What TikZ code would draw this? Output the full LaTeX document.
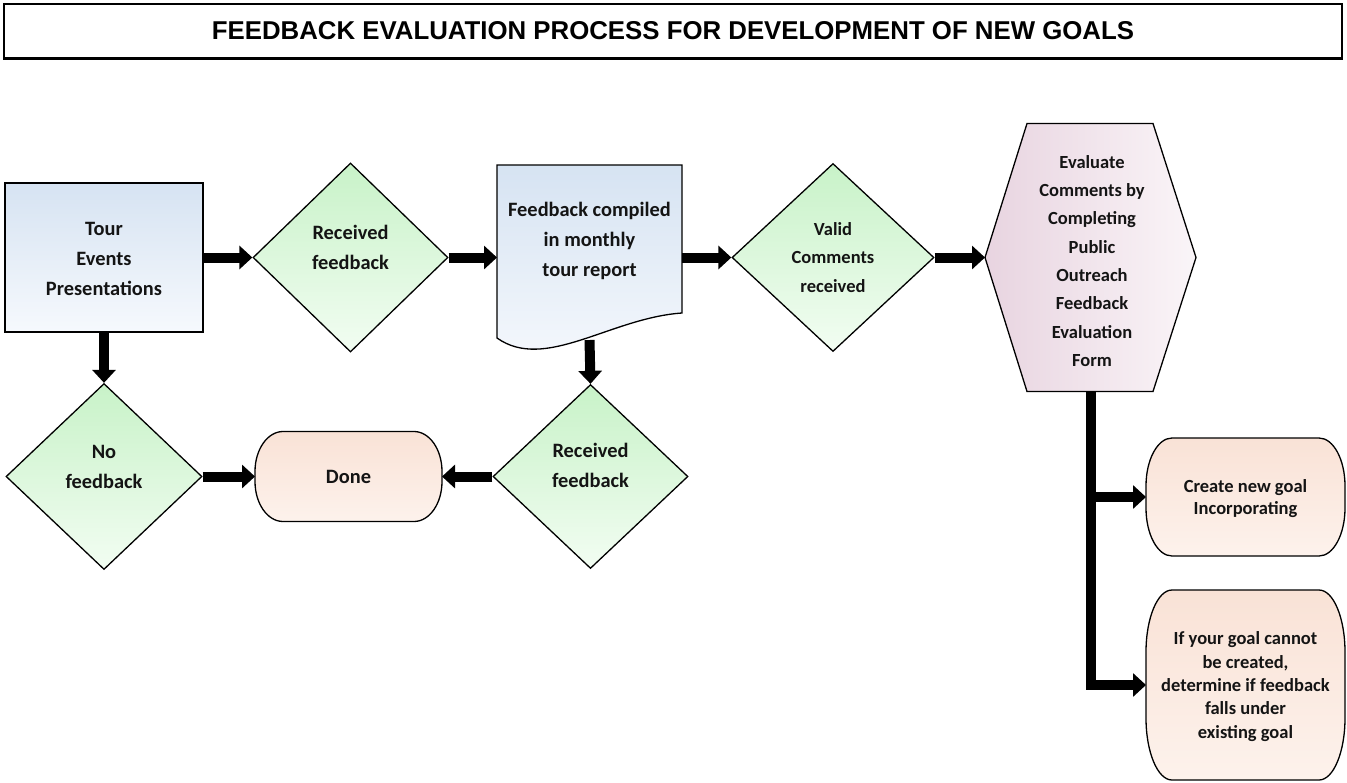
\documentclass[tikz,border=0pt]{standalone}
\usepackage{fontspec}
\setmainfont{Carlito}
\newfontfamily\titlefont{Liberation Sans}
\usetikzlibrary{shapes.geometric,arrows.meta,calc}

\definecolor{blueTop}{RGB}{214,227,242}
\definecolor{blueBot}{RGB}{246,249,253}
\definecolor{greenTop}{RGB}{200,242,200}
\definecolor{greenBot}{RGB}{242,253,242}
\definecolor{peachA}{RGB}{249,226,214}
\definecolor{peachB}{RGB}{253,242,236}
\definecolor{mauveL}{RGB}{232,212,224}
\definecolor{mauveR}{RGB}{250,245,248}
\definecolor{ink}{RGB}{20,20,20}

% terminal with elliptical corners drawn around a named frame node
\newcommand\termbox[3]{%
  \draw[outline, top color=peachA, bottom color=peachB]
    ([xshift=#2]#1.north west) -- ([xshift=-#2]#1.north east)
    arc[start angle=90, end angle=0, x radius=#2, y radius=#3]
    -- ([yshift=#3]#1.south east)
    arc[start angle=0, end angle=-90, x radius=#2, y radius=#3]
    -- ([xshift=#2]#1.south west)
    arc[start angle=270, end angle=180, x radius=#2, y radius=#3]
    -- ([yshift=-#3]#1.north west)
    arc[start angle=180, end angle=90, x radius=#2, y radius=#3] -- cycle;}

\begin{document}
\begin{tikzpicture}[x=1pt, y=1pt,
  outline/.style={draw=black, line width=1.3pt},
  procbox/.style={outline, rectangle, inner sep=0pt, top color=blueTop, bottom color=blueBot},
  decision/.style={outline, diamond, inner sep=0pt, top color=greenTop, bottom color=greenBot},
  frame/.style={rectangle, inner sep=0pt, outer sep=0pt},
  bigtxt/.style={align=center, text=ink, font=\fontsize{20.4}{30}\selectfont\bfseries},
  smalltxt/.style={align=center, text=ink, font=\fontsize{18.5}{28.3}\selectfont\bfseries},
  flow/.style={line width=10pt, line join=miter, -{Triangle[length=13pt, width=23pt]}}]

\useasboundingbox (0,0) rectangle (1347,-782);

% heading
\node[draw=black, line width=1.5pt, minimum width=1338pt, minimum height=54pt, inner sep=0pt]
  (title) at (673,-31)
  {\titlefont\bfseries\fontsize{25.8}{30}\selectfont FEEDBACK EVALUATION PROCESS FOR DEVELOPMENT OF NEW GOALS};
\draw[line width=3pt] (title.south west) -- (title.south east);

% main row
\node[procbox, minimum width=198pt, minimum height=149pt] (tour) at (104,-257.5) {};
\node[decision, minimum width=195pt, minimum height=189pt] (recv1) at (350.5,-257.5) {};
\node[frame, minimum width=185pt, minimum height=185pt] (doc) at (589.5,-257.5) {};
\draw[outline, top color=blueTop, bottom color=blueBot]
  (497,-165) -- (682,-165) -- (682,-313)
  .. controls (610,-318) and (545,-372) .. (497,-338) -- cycle;
\node[decision, minimum width=202pt, minimum height=188pt] (valid) at (833,-257.5) {};
\node[frame, minimum width=211pt, minimum height=268pt] (hex) at (1090.5,-257.5) {};
\draw[outline, left color=mauveL, right color=mauveR]
  (hex.west) -- ([xshift=42pt]hex.north west) -- ([xshift=-43pt]hex.north east)
  -- (hex.east) -- ([xshift=-43pt]hex.south east) -- ([xshift=42pt]hex.south west) -- cycle;

% lower row
\node[decision, minimum width=196pt, minimum height=186pt] (nofb) at (104,-476.5) {};
\node[frame, minimum width=187pt, minimum height=90pt] (done) at (348.5,-476.5) {};
\termbox{done}{28pt}{40pt}
\node[decision, minimum width=195pt, minimum height=184pt] (recv2) at (590.5,-476.5) {};

% outcomes
\node[frame, minimum width=199pt, minimum height=118pt] (create) at (1245.5,-497) {};
\termbox{create}{26pt}{48pt}
\node[frame, minimum width=199pt, minimum height=190pt] (ifbox) at (1245.5,-685) {};
\termbox{ifbox}{26pt}{62pt}

% labels
\node[bigtxt] at ([yshift=-1pt]tour) {Tour\\Events\\Presentations};
\node[bigtxt] at ([yshift=10.5pt]recv1) {Received\\feedback};
\node[bigtxt] at ([yshift=17pt]doc) {Feedback compiled\\in monthly\\tour report};
\node[smalltxt] at (valid) {Valid\\Comments\\received};
\node[smalltxt] at ([xshift=1.5pt,yshift=-3.5pt]hex)
  {Evaluate\\Comments by\\Completing\\Public\\Outreach\\Feedback\\Evaluation\\Form};
\node[bigtxt] at ([yshift=9.5pt]nofb) {No\\feedback};
\node[bigtxt] at (done) {Done};
\node[bigtxt] at ([yshift=11.5pt]recv2) {Received\\feedback};
\node[align=center, text=ink, font=\fontsize{18.5}{22}\selectfont\bfseries]
  at ([yshift=-2pt]create) {Create new goal\\Incorporating};
\node[align=center, text=ink, font=\fontsize{18.5}{23.4}\selectfont\bfseries]
  at ([yshift=-1.5pt]ifbox) {If your goal cannot\\be created,\\determine if feedback\\falls under\\existing goal};

% connectors
\draw[flow] (tour.east) -- (recv1.west);
\draw[flow] (recv1.east) -- (recv1.east -| doc.west);
\draw[flow] (doc.east) -- (valid.west);
\draw[flow] (valid.east) -- (hex.west);
\draw[flow] (tour.south) -- (nofb.north);
\draw[flow] ([yshift=10pt]doc.south) -- (recv2.north);
\draw[flow] (nofb.east) -- (done.west);
\draw[flow] (recv2.west) -- (done.east);
\draw[flow] (hex.south) |- (create.west);
\draw[flow] (hex.south) |- (ifbox.west);
\end{tikzpicture}
\end{document}
